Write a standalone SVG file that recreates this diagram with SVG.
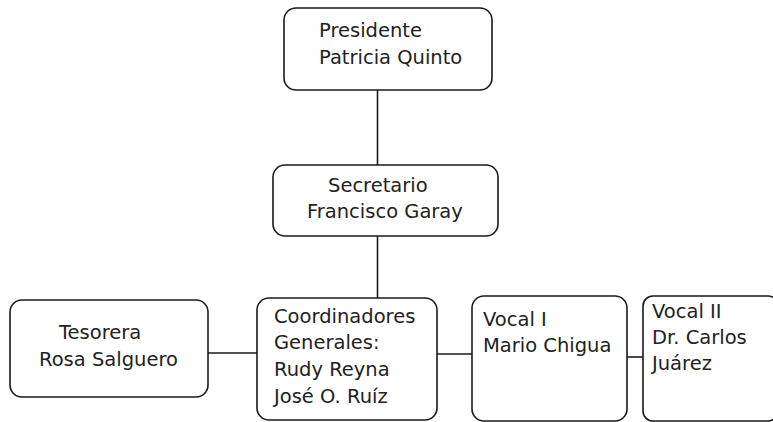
<svg xmlns="http://www.w3.org/2000/svg" width="773" height="422" viewBox="0 0 773 422">
<style>
.box{fill:#fff;stroke:#1a1a1a;stroke-width:1.6}
.ln{stroke:#1a1a1a;stroke-width:1.6;fill:none}
text{font-family:"DejaVu Sans",Verdana,sans-serif;font-size:19.5px;fill:#222}
</style>
<rect width="773" height="422" fill="#fff"/>
<g id="connectors">
<line class="ln" x1="377.5" y1="90" x2="377.5" y2="165"/>
<line class="ln" x1="377.5" y1="236" x2="377.5" y2="298"/>
<line class="ln" x1="208" y1="353" x2="257" y2="353"/>
<line class="ln" x1="437" y1="354" x2="472" y2="354"/>
<line class="ln" x1="627" y1="357" x2="643" y2="357"/>
</g>
<g id="presidente">
<rect class="box" x="284" y="8" width="208" height="82" rx="12"/>
<text x="319" y="37">Presidente</text>
<text x="319" y="64">Patricia Quinto</text>
</g>
<g id="secretario">
<rect class="box" x="273" y="165" width="225" height="71" rx="12"/>
<text x="328" y="192">Secretario</text>
<text x="307" y="218">Francisco Garay</text>
</g>
<g id="tesorera">
<rect class="box" x="10" y="300" width="198" height="97" rx="12"/>
<text x="59" y="339">Tesorera</text>
<text x="39" y="366">Rosa Salguero</text>
</g>
<g id="coordinadores">
<rect class="box" x="257" y="298" width="180" height="122" rx="12"/>
<text x="274" y="323">Coordinadores</text>
<text x="274" y="349">Generales:</text>
<text x="274" y="376">Rudy Reyna</text>
<text x="274" y="403">José O. Ruíz</text>
</g>
<g id="vocal1">
<rect class="box" x="472" y="296" width="155" height="125" rx="12"/>
<text x="483" y="326">Vocal I</text>
<text x="483" y="352">Mario Chigua</text>
</g>
<g id="vocal2">
<rect class="box" x="643" y="296" width="135" height="125" rx="10"/>
<text x="652" y="318">Vocal II</text>
<text x="652" y="344">Dr. Carlos</text>
<text x="652" y="370">Juárez</text>
</g>
</svg>
